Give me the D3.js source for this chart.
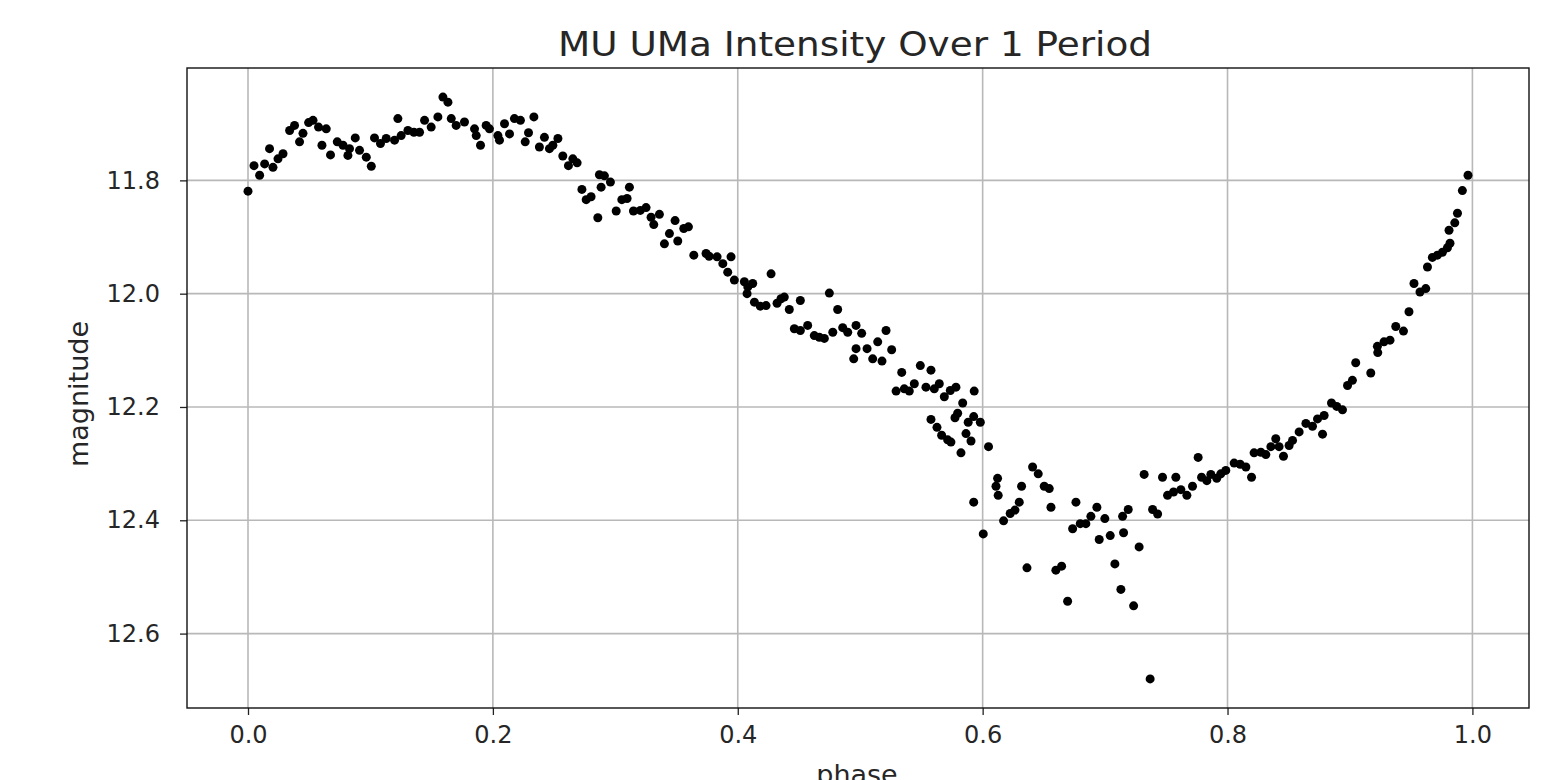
<!DOCTYPE html>
<html>
<head>
<meta charset="utf-8">
<script src="https://cdn.jsdelivr.net/npm/d3@7"></script>
<style>
  html, body { margin: 0; padding: 0; background: #fff; }
  svg { display: block; }
  text { font-family: "DejaVu Sans", sans-serif; fill: #262626; }
</style>
</head>
<body>
<svg id="chart" width="1557" height="780"></svg>
<script>
const titleText = "MU UMa Intensity Over 1 Period";
const xLabel = "phase";
const yLabel = "magnitude";
const xTicks = [0.0, 0.2, 0.4, 0.6, 0.8, 1.0];
const yTicks = [11.8, 12.0, 12.2, 12.4, 12.6];

const phase = [
  0.0000, 0.0049, 0.0095, 0.0136, 0.0176, 0.0204, 0.0245, 0.0286, 0.0340, 0.0380,
  0.0421, 0.0449, 0.0495, 0.0531, 0.0576, 0.0604, 0.0639, 0.0674, 0.0729, 0.0776,
  0.0816, 0.0829, 0.0876, 0.0911, 0.0966, 0.1007, 0.1033, 0.1082, 0.1129, 0.1197,
  0.1224, 0.1251, 0.1306, 0.1355, 0.1401, 0.1442, 0.1496, 0.1551, 0.1592, 0.1633,
  0.1660, 0.1700, 0.1768, 0.1850, 0.1864, 0.1899, 0.1945, 0.1972, 0.2041, 0.2054,
  0.2095, 0.2136, 0.2176, 0.2225, 0.2264, 0.2291, 0.2335, 0.2380, 0.2421, 0.2462,
  0.2490, 0.2531, 0.2571, 0.2617, 0.2653, 0.2688, 0.2727, 0.2762, 0.2802, 0.2857,
  0.2870, 0.2884, 0.2911, 0.2960, 0.3007, 0.3053, 0.3096, 0.3115, 0.3148, 0.3204,
  0.3251, 0.3292, 0.3314, 0.3360, 0.3401, 0.3442, 0.3488, 0.3510, 0.3559, 0.3597,
  0.3641, 0.3741, 0.3766, 0.3831, 0.3878, 0.3918, 0.3945, 0.3972, 0.4054, 0.4076,
  0.4082, 0.4122, 0.4136, 0.4184, 0.4231, 0.4272, 0.4321, 0.4353, 0.4380, 0.4421,
  0.4462, 0.4511, 0.4511, 0.4571, 0.4625, 0.4666, 0.4707, 0.4748, 0.4776, 0.4816,
  0.4857, 0.4898, 0.4947, 0.4966, 0.4966, 0.5012, 0.5056, 0.5102, 0.5143, 0.5178,
  0.5211, 0.5257, 0.5293, 0.5339, 0.5360, 0.5401, 0.5442, 0.5491, 0.5537, 0.5578,
  0.5578, 0.5605, 0.5627, 0.5646, 0.5665, 0.5687, 0.5714, 0.5736, 0.5741, 0.5774,
  0.5782, 0.5796, 0.5823, 0.5837, 0.5864, 0.5882, 0.5905, 0.5927, 0.5927, 0.5931,
  0.5981, 0.6005, 0.6048, 0.6109, 0.6122, 0.6127, 0.6171, 0.6225, 0.6264, 0.6299,
  0.6318, 0.6362, 0.6408, 0.6454, 0.6503, 0.6544, 0.6558, 0.6598, 0.6645, 0.6694,
  0.6735, 0.6762, 0.6797, 0.6843, 0.6884, 0.6933, 0.6952, 0.6998, 0.7042, 0.7080,
  0.7129, 0.7143, 0.7151, 0.7189, 0.7233, 0.7278, 0.7319, 0.7368, 0.7388, 0.7429,
  0.7469, 0.7510, 0.7559, 0.7578, 0.7619, 0.7668, 0.7714, 0.7760, 0.7788, 0.7831,
  0.7864, 0.7912, 0.7945, 0.7986, 0.8054, 0.8103, 0.8150, 0.8196, 0.8217, 0.8272,
  0.8313, 0.8354, 0.8394, 0.8421, 0.8457, 0.8503, 0.8531, 0.8585, 0.8640, 0.8694,
  0.8735, 0.8776, 0.8789, 0.8849, 0.8892, 0.8939, 0.8980, 0.9020, 0.9047, 0.9170,
  0.9224, 0.9227, 0.9278, 0.9327, 0.9374, 0.9437, 0.9482, 0.9523, 0.9572, 0.9619,
  0.9633, 0.9673, 0.9714, 0.9755, 0.9796, 0.9809, 0.9817, 0.9856, 0.9878, 0.9918,
  0.9964
];

const magnitude = [
  11.819, 11.774, 11.791, 11.771, 11.744, 11.777, 11.762, 11.753, 11.712, 11.703,
  11.732, 11.717, 11.698, 11.694, 11.706, 11.738, 11.709, 11.755, 11.732, 11.738,
  11.756, 11.744, 11.725, 11.747, 11.759, 11.775, 11.725, 11.735, 11.726, 11.729,
  11.691, 11.721, 11.712, 11.715, 11.715, 11.694, 11.706, 11.688, 11.653, 11.662,
  11.691, 11.703, 11.697, 11.709, 11.721, 11.738, 11.703, 11.709, 11.721, 11.729,
  11.700, 11.718, 11.691, 11.694, 11.732, 11.716, 11.688, 11.741, 11.724, 11.744,
  11.738, 11.726, 11.757, 11.774, 11.762, 11.769, 11.816, 11.834, 11.829, 11.866,
  11.790, 11.812, 11.792, 11.803, 11.854, 11.834, 11.832, 11.812, 11.854, 11.853,
  11.848, 11.865, 11.878, 11.860, 11.912, 11.894, 11.871, 11.907, 11.885, 11.882,
  11.932, 11.929, 11.934, 11.935, 11.947, 11.962, 11.935, 11.976, 11.979, 12.000,
  11.988, 11.982, 12.015, 12.022, 12.021, 11.965, 12.017, 12.009, 12.006, 12.028,
  12.062, 12.012, 12.065, 12.056, 12.074, 12.077, 12.079, 11.999, 12.068, 12.028,
  12.060, 12.068, 12.115, 12.056, 12.097, 12.070, 12.097, 12.115, 12.085, 12.119,
  12.065, 12.099, 12.172, 12.139, 12.168, 12.172, 12.159, 12.127, 12.165, 12.135,
  12.222, 12.168, 12.236, 12.159, 12.250, 12.182, 12.258, 12.171, 12.262, 12.219,
  12.165, 12.211, 12.281, 12.193, 12.247, 12.227, 12.260, 12.217, 12.368, 12.172,
  12.227, 12.424, 12.270, 12.340, 12.326, 12.356, 12.401, 12.388, 12.382, 12.368,
  12.340, 12.484, 12.306, 12.318, 12.340, 12.344, 12.377, 12.488, 12.481, 12.543,
  12.415, 12.368, 12.406, 12.406, 12.393, 12.377, 12.434, 12.397, 12.427, 12.477,
  12.522, 12.393, 12.422, 12.381, 12.551, 12.447, 12.319, 12.680, 12.381, 12.389,
  12.324, 12.356, 12.350, 12.324, 12.346, 12.356, 12.340, 12.289, 12.324, 12.330,
  12.319, 12.326, 12.318, 12.312, 12.299, 12.301, 12.306, 12.324, 12.281, 12.280,
  12.284, 12.270, 12.256, 12.270, 12.287, 12.268, 12.259, 12.244, 12.229, 12.234,
  12.221, 12.248, 12.215, 12.193, 12.199, 12.205, 12.162, 12.153, 12.122, 12.140,
  12.093, 12.104, 12.085, 12.082, 12.058, 12.066, 12.032, 11.982, 11.997, 11.991,
  11.953, 11.936, 11.932, 11.927, 11.919, 11.888, 11.911, 11.875, 11.858, 11.818,
  11.791
];

const W = 1557, H = 780;
const plot = { left: 187, right: 1529, top: 68, bottom: 708 };

const svg = d3.select("#chart");
const data = phase.map((p, i) => ({ p, m: magnitude[i] }));

// matplotlib-like 5% margins
function padded(ext) {
  const d = (ext[1] - ext[0]) * 0.05;
  return [ext[0] - d, ext[1] + d];
}
const xDom = padded(d3.extent(phase));
const yDom = padded(d3.extent(magnitude));

const x = d3.scaleLinear().domain(xDom).range([plot.left, plot.right]);
const y = d3.scaleLinear().domain(yDom).range([plot.top, plot.bottom]); // inverted: bright on top

// grid
const grid = svg.append("g");
grid.selectAll("line.vx").data(xTicks).enter().append("line")
  .attr("x1", d => x(d)).attr("x2", d => x(d))
  .attr("y1", plot.top).attr("y2", plot.bottom)
  .attr("stroke", "#b8b8b8").attr("stroke-width", 1.6);
grid.selectAll("line.hy").data(yTicks).enter().append("line")
  .attr("y1", d => y(d)).attr("y2", d => y(d))
  .attr("x1", plot.left).attr("x2", plot.right)
  .attr("stroke", "#b8b8b8").attr("stroke-width", 1.6);

// points
svg.append("g").selectAll("circle").data(data).enter().append("circle")
  .attr("cx", d => x(d.p)).attr("cy", d => y(d.m)).attr("r", 4.5)
  .attr("fill", "#000");

// axes
const xAxis = d3.axisBottom(x).tickValues(xTicks).tickFormat(d3.format(".1f"))
  .tickSizeInner(7).tickSizeOuter(0).tickPadding(11);
const yAxis = d3.axisLeft(y).tickValues(yTicks).tickFormat(d3.format(".1f"))
  .tickSizeInner(7).tickSizeOuter(0).tickPadding(20);

const gx = svg.append("g").attr("transform", `translate(0,${plot.bottom})`).call(xAxis);
const gy = svg.append("g").attr("transform", `translate(${plot.left},0)`).call(yAxis);
[gx, gy].forEach(g => {
  g.select(".domain").remove();
  g.selectAll(".tick line").attr("stroke", "#222").attr("stroke-width", 1.3);
  g.selectAll(".tick text").attr("font-family", "DejaVu Sans").attr("font-size", 24).attr("fill", "#262626");
});

// frame
svg.append("rect")
  .attr("x", plot.left).attr("y", plot.top)
  .attr("width", plot.right - plot.left).attr("height", plot.bottom - plot.top)
  .attr("fill", "none").attr("stroke", "#111").attr("stroke-width", 1.4);

// title & labels
svg.append("text").attr("x", 855).attr("y", 56)
  .attr("text-anchor", "middle").attr("font-size", 34)
  .attr("textLength", 594).attr("lengthAdjust", "spacingAndGlyphs").text(titleText);
svg.append("text").attr("x", 857).attr("y", 784)
  .attr("text-anchor", "middle").attr("font-size", 27).text(xLabel);
svg.append("text").attr("transform", `translate(88,394) rotate(-90)`)
  .attr("text-anchor", "middle").attr("font-size", 27).text(yLabel);
</script>
</body>
</html>
